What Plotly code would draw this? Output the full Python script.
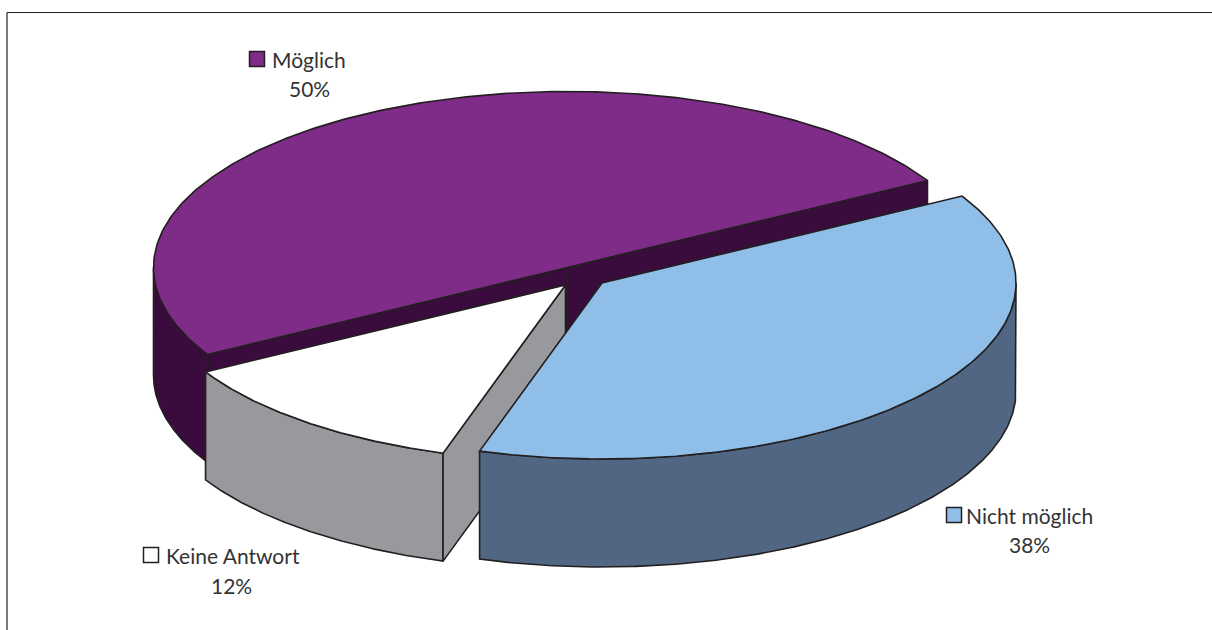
import numpy as np
import plotly.graph_objects as go

categories = ["Möglich", "Nicht möglich", "Keine Antwort"]
values = [50, 38, 12]
top_colors = ["#7F2B88", "#8FBFE8", "#FFFFFF"]
side_colors = ["#3A0C3D", "#506682", "#98999C"]
label_text_x = [270, 964, 164]
label_y = [59, 515, 555]
pct_x = [309, 1029, 231]
pct_y = [88, 544, 585]
key_x = [257, 954, 151]

RX, RY, DEPTH = 414, 176, 108
START = 29.6
CENTERS = {"Möglich": (567.5, 267.5), "Nicht möglich": (602, 283), "Keine Antwort": (565.5, 285)}
EDGE = "#231F20"
TEXT = "#333333"
W, H = 1212, 630


def arc(center, a0, a1, dy=0, n=240):
    t = np.radians(np.linspace(a0, a1, n))
    return center[0] + RX * np.cos(t), center[1] - RY * np.sin(t) + dy


def poly(x, y, fill):
    return go.Scatter(x=np.append(x, x[0]), y=np.append(y, y[0]), mode="lines", fill="toself",
                      fillcolor=fill, line=dict(color=EDGE, width=1.6), hoverinfo="skip", showlegend=False)


def wall(center, a0, a1, fill):
    xt, yt = arc(center, a0, a1)
    xb, yb = arc(center, a1, a0, DEPTH)
    return poly(np.r_[xt, xb], np.r_[yt, yb], fill)


def cut(center, a, fill):
    x, y = arc(center, a, a, n=1)
    return poly(np.array([center[0], x[0], x[0], center[0]]),
                np.array([center[1], y[0], y[0] + DEPTH, center[1] + DEPTH]), fill)


def top(center, a0, a1, fill):
    x, y = arc(center, a0, a1)
    return poly(np.r_[center[0], x], np.r_[center[1], y], fill)


total = sum(values)
sweep = [v / total * 360 for v in values]
p0, p1 = START, START + sweep[0]
b0, b1 = START, START - sweep[1]
k0, k1 = b1, b1 - sweep[2]

cp, cb, ck = (CENTERS[c] for c in categories)
fig = go.Figure()
# back piece: Möglich
fig.add_trace(cut(cp, p0, side_colors[0]))
fig.add_trace(cut(cp, p1, side_colors[0]))
fig.add_trace(wall(cp, 180, p1, side_colors[0]))
fig.add_trace(top(cp, p0, p1, top_colors[0]))
# Keine Antwort
fig.add_trace(wall(ck, k0, k1, side_colors[2]))
fig.add_trace(cut(ck, k0, side_colors[2]))
fig.add_trace(top(ck, k0, k1, top_colors[2]))
# Nicht möglich
fig.add_trace(wall(cb, b1, 0, side_colors[1]))
fig.add_trace(top(cb, b0, b1, top_colors[1]))

# legend keys
fig.add_trace(go.Scatter(x=key_x, y=label_y, mode="markers", hoverinfo="skip", showlegend=False,
                         marker=dict(symbol="square", size=15, color=top_colors,
                                     line=dict(color=EDGE, width=1.5))))

annotations = []
for i, c in enumerate(categories):
    annotations.append(dict(x=label_text_x[i], y=label_y[i], text=c, xanchor="left", yanchor="middle",
                            showarrow=False, font=dict(family="Lato", size=21, color=TEXT)))
    annotations.append(dict(x=pct_x[i], y=pct_y[i], text=f"{values[i]}%", xanchor="center", yanchor="middle",
                            showarrow=False, font=dict(family="Lato", size=21, color=TEXT)))

shapes = [
    dict(type="line", x0=7, x1=7, y0=12.5, y1=H, line=dict(color=EDGE, width=1.2)),
    dict(type="line", x0=7, x1=W, y0=12.5, y1=12.5, line=dict(color=EDGE, width=1.2)),
]

fig.update_layout(
    width=W, height=H, margin=dict(l=0, r=0, t=0, b=0),
    paper_bgcolor="white", plot_bgcolor="white", showlegend=False,
    xaxis=dict(range=[0, W], visible=False, fixedrange=True),
    yaxis=dict(range=[H, 0], visible=False, fixedrange=True),
    annotations=annotations, shapes=shapes,
)
fig.write_html("out.html", config={"displayModeBar": False},
               post_script="document.body.style.margin='0';")
